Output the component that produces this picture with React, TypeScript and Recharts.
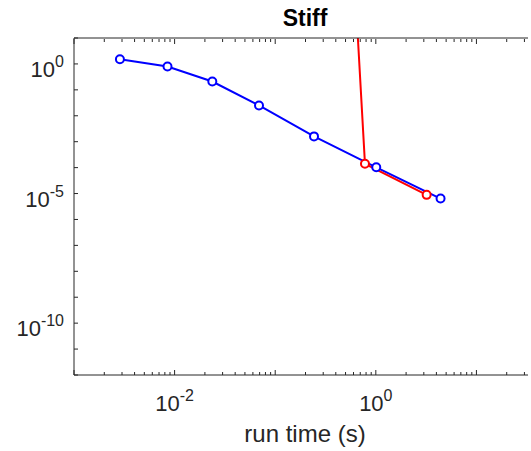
import { LineChart, Line, XAxis, YAxis } from 'recharts';

// blue series (run time, error)
const blueTime = [0.00286, 0.0085, 0.0237, 0.069, 0.243, 1.01, 4.4];
const blueErr = [1.52, 0.79, 0.21, 0.025, 0.0016, 0.000103, 0.0000064];

// red series, first point lies above the plot
const redTime = [0.6, 0.78, 3.2];
const redErr = [10000, 0.00014, 0.0000089];

const xDecades = [-3, -2, -1, 0, 1];
const xLabelExps = [-2, 0];
const yDecades = [-12, -11, -10, -9, -8, -7, -6, -5, -4, -3, -2, -1, 0, 1];
const yLabelExps = [0, -5, -10];

const blueData = blueTime.map((t, i) => ({ x: t, y: blueErr[i] }));
const redData = redTime.map((t, i) => ({ x: t, y: redErr[i] }));

const xTicks: number[] = [];
xDecades.forEach((d) => {
  for (let m = 1; m <= 9; m++) {
    const v = m * Math.pow(10, d);
    if (v < 40) xTicks.push(v);
  }
});
const yTicks = yDecades.map((d) => Math.pow(10, d));

const INK = '#262626';
const FONT = '"Liberation Sans", Arial, Helvetica, sans-serif';

const isDecade = (v: number) => {
  const e = Math.round(Math.log10(v));
  return Math.abs(v / Math.pow(10, e) - 1) < 1e-6;
};

function XTick(props: any) {
  const { x, y, payload, orientation } = props;
  const v = payload.value;
  const major = isDecade(v);
  const e = Math.round(Math.log10(v));
  const top = orientation === 'top';
  const y0 = top ? y + 1 : y;
  const dir = top ? 1 : -1;
  const len = major ? 5 : 3;
  return (
    <g>
      <line x1={x} x2={x} y1={y0} y2={y0 + dir * len} stroke={INK} strokeWidth={1} />
      {!top && major && xLabelExps.includes(e) && (
        <text x={x} y={y + 36} textAnchor="middle" fontSize={22} fill={INK} fontFamily={FONT}>
          10
          <tspan dy={-10} fontSize={16}>{String(e)}</tspan>
        </text>
      )}
    </g>
  );
}

function YTick(props: any) {
  const { x, y, payload } = props;
  const e = Math.round(Math.log10(payload.value));
  return (
    <g>
      <line x1={x} x2={x + 4} y1={y} y2={y} stroke={INK} strokeWidth={1} />
      {yLabelExps.includes(e) && (
        <text x={x - 10} y={y + 13} textAnchor="end" fontSize={22} fill={INK} fontFamily={FONT}>
          10
          <tspan dy={-10} fontSize={16}>{String(e)}</tspan>
        </text>
      )}
    </g>
  );
}

export default function App() {
  return (
    <div
      style={{
        position: 'fixed',
        left: 0,
        top: 0,
        width: 528,
        height: 451,
        overflow: 'hidden',
        background: '#fff',
      }}
    >
      <LineChart width={600} height={451} margin={{ top: 37, right: 63, bottom: 0, left: 0 }}>
        <XAxis
          dataKey="x"
          type="number"
          scale="log"
          domain={[0.001, 40]}
          allowDataOverflow
          ticks={xTicks}
          interval={0}
          tick={<XTick />}
          tickLine={false}
          tickSize={0}
          tickMargin={0}
          height={76}
          axisLine={{ stroke: INK }}
        />
        <XAxis
          xAxisId="top"
          orientation="top"
          dataKey="x"
          type="number"
          scale="log"
          domain={[0.001, 40]}
          allowDataOverflow
          ticks={xTicks}
          interval={0}
          tick={<XTick />}
          tickLine={false}
          tickSize={0}
          tickMargin={0}
          height={1}
          axisLine={{ stroke: INK }}
        />
        <YAxis
          dataKey="y"
          type="number"
          scale="log"
          domain={[1e-12, 10]}
          allowDataOverflow
          ticks={yTicks}
          interval={0}
          tick={<YTick />}
          tickLine={false}
          tickSize={0}
          tickMargin={0}
          width={74}
          axisLine={{ stroke: INK }}
        />
        <Line
          data={blueData}
          dataKey="y"
          stroke="#0000ff"
          strokeWidth={2}
          dot={{ r: 4, stroke: '#0000ff', strokeWidth: 2, fill: '#fff' }}
          isAnimationActive={false}
        />
        <Line
          data={redData}
          dataKey="y"
          stroke="#ff0000"
          strokeWidth={2}
          dot={{ r: 4, stroke: '#ff0000', strokeWidth: 2, fill: '#fff' }}
          isAnimationActive={false}
        />
        <text x={305} y={26} textAnchor="middle" fontSize={23} fontWeight="bold" fill="#000" fontFamily={FONT}>
          Stiff
        </text>
        <text x={305} y={442} textAnchor="middle" fontSize={24} fill={INK} fontFamily={FONT}>
          run time (s)
        </text>
      </LineChart>
    </div>
  );
}
